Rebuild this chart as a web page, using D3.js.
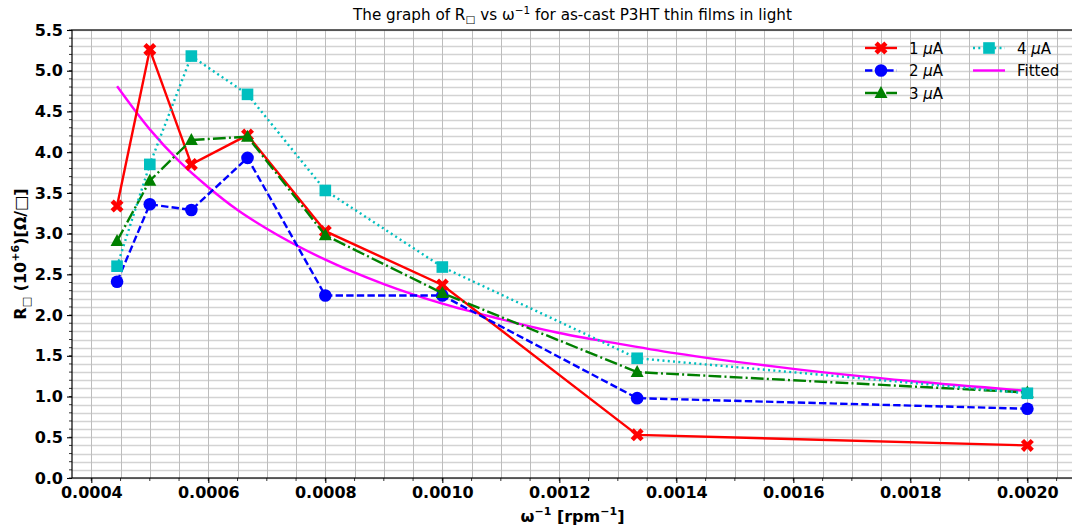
<!doctype html>
<html lang="en">
<head>
<meta charset="utf-8">
<title>R vs omega^-1</title>
<script src="https://d3js.org/d3.v7.min.js"></script>
<style>
	body { margin: 0; background: #fff; }
	svg { font-family: "DejaVu Sans", sans-serif; }
</style>
</head>
<body>
<svg id="chart" width="1072" height="531"></svg>
<script>
// rotation speed inverse (rpm^-1): 2250, 2000, 1750, 1500, 1250, 1000, 750, 500 rpm
var omegaInv = [0.000444, 0.0005, 0.000571, 0.000667, 0.0008, 0.001, 0.001333, 0.002];

var r1uA = [3.34, 5.26, 3.85, 4.21, 3.03, 2.37, 0.53, 0.40];
var r2uA = [2.41, 3.36, 3.29, 3.93, 2.24, 2.24, 0.98, 0.85];
var r3uA = [2.91, 3.65, 4.15, 4.19, 2.98, 2.27, 1.30, 1.05];
var r4uA = [2.60, 3.85, 5.18, 4.71, 3.53, 2.59, 1.47, 1.04];

// fitted curve
var fitX = [0.000444, 0.0005, 0.00055, 0.0006, 0.00065, 0.0007, 0.0008, 0.0009, 0.001, 0.0011, 0.0012, 0.0013, 0.0014, 0.0016, 0.0018, 0.002];
var fitY = [4.81, 4.28, 3.89, 3.57, 3.29, 3.06, 2.68, 2.38, 2.14, 1.95, 1.78, 1.65, 1.53, 1.34, 1.19, 1.07];

var xTicks = [0.0004, 0.0006, 0.0008, 0.0010, 0.0012, 0.0014, 0.0016, 0.0018, 0.0020];
var yTicks = [0, 0.5, 1, 1.5, 2, 2.5, 3, 3.5, 4, 4.5, 5, 5.5];

var series = [
	{ name: "1", vals: r1uA, color: "#ff0000", dash: null, marker: "x" },
	{ name: "2", vals: r2uA, color: "#0000ff", dash: "7.4,3.2", marker: "circle" },
	{ name: "3", vals: r3uA, color: "#008000", dash: "12.8,3.2,2,3.2", marker: "triangle" },
	{ name: "4", vals: r4uA, color: "#00bfbf", dash: "2,3.3", marker: "square" }
];

const svg = d3.select('#chart');

var pLeft = 72, pRight = 1073, pTop = 30, pBottom = 478;

var x = d3.scaleLinear().domain([0.000367, 0.002078]).range([pLeft, pRight]);
var y = d3.scaleLinear().domain([0, 5.5]).range([pBottom, pTop]);

svg.append("clipPath").attr("id", "clip")
	.append("rect").attr("x", pLeft).attr("y", pTop)
	.attr("width", pRight - pLeft).attr("height", pBottom - pTop);

// grid (major + minor)
var grid = svg.append("g");
var xMinor = d3.range(0.0004, 0.00208, 0.00005);
var yMinor = d3.range(0, 5.51, 0.1);
grid.selectAll("line.gy").data(yMinor).enter().append("line")
	.attr("x1", pLeft).attr("x2", pRight)
	.attr("y1", d => Math.round(y(d)) + 0.5).attr("y2", d => Math.round(y(d)) + 0.5)
	.attr("stroke", "#d3d3d3").attr("stroke-width", 1.3);
grid.selectAll("line.gx").data(xMinor).enter().append("line")
	.attr("y1", pTop).attr("y2", pBottom)
	.attr("x1", d => Math.round(x(d)) + 0.5).attr("x2", d => Math.round(x(d)) + 0.5)
	.attr("stroke", "#bdbdbd").attr("stroke-width", 1);

var plot = svg.append("g").attr("clip-path", "url(#clip)");

// fitted curve
var fitLine = d3.line().x((d, i) => x(fitX[i])).y(d => y(d)).curve(d3.curveMonotoneX);
plot.append("path")
	.attr("d", fitLine(fitY))
	.attr("fill", "none").attr("stroke", "#ff00ff").attr("stroke-width", 2.4);

function markerPath(type) {
	if (type == "circle") return d3.symbol(d3.symbolCircle, 125)();
	if (type == "square") return d3.symbol(d3.symbolSquare, 135)();
	if (type == "triangle") return "M0,-7L6.5,5L-6.5,5Z";
	// filled X
	var a = 6.5, w = 3.2;
	return "M" + (-a) + "," + (-a + w) + "L" + (-a + w) + "," + (-a) + "L0," + (-w) +
		"L" + (a - w) + "," + (-a) + "L" + a + "," + (-a + w) + "L" + w + ",0" +
		"L" + a + "," + (a - w) + "L" + (a - w) + "," + a + "L0," + w +
		"L" + (-a + w) + "," + a + "L" + (-a) + "," + (a - w) + "L" + (-w) + ",0Z";
}

var line = d3.line().x((d, i) => x(omegaInv[i])).y(d => y(d));

series.forEach(function(s) {
	var g = plot.append("g");
	g.append("path")
		.attr("d", line(s.vals))
		.attr("fill", "none")
		.attr("stroke", s.color)
		.attr("stroke-width", 2.4)
		.attr("stroke-dasharray", s.dash);
	g.selectAll("path.m").data(s.vals).enter().append("path")
		.attr("class", "m")
		.attr("d", markerPath(s.marker))
		.attr("transform", (d, i) => "translate(" + x(omegaInv[i]) + "," + y(d) + ")")
		.attr("fill", s.color);
});

// frame
svg.append("rect").attr("x", pLeft).attr("y", pTop)
	.attr("width", pRight - pLeft).attr("height", pBottom - pTop)
	.attr("fill", "none").attr("stroke", "#000").attr("stroke-width", 1.2);

// axes
var xAxis = d3.axisBottom(x).tickValues(xTicks).tickFormat(d3.format(".4f")).tickSize(5).tickPadding(4);
var yAxis = d3.axisLeft(y).tickValues(yTicks).tickFormat(d3.format(".1f")).tickSize(5).tickPadding(4);

var gx = svg.append("g").attr("transform", "translate(0," + pBottom + ")").call(xAxis);
var gy = svg.append("g").attr("transform", "translate(" + pLeft + ",0)").call(yAxis);
[gx, gy].forEach(function(g) {
	g.select(".domain").remove();
	g.selectAll("text").attr("font-family", "DejaVu Sans").attr("font-size", 16)
		.attr("font-weight", "bold").attr("fill", "#000");
	g.selectAll("line").attr("stroke", "#000").attr("stroke-width", 1.1);
});

// minor ticks
svg.append("g").selectAll("line").data(xMinor).enter().append("line")
	.attr("x1", d => x(d)).attr("x2", d => x(d))
	.attr("y1", pBottom).attr("y2", pBottom + 3)
	.attr("stroke", "#000").attr("stroke-width", 0.8);
svg.append("g").selectAll("line").data(yMinor).enter().append("line")
	.attr("y1", d => y(d)).attr("y2", d => y(d))
	.attr("x1", pLeft).attr("x2", pLeft - 3)
	.attr("stroke", "#000").attr("stroke-width", 0.8);

// title
var title = svg.append("text").attr("x", (pLeft + pRight) / 2).attr("y", 20)
	.attr("text-anchor", "middle").attr("font-size", 15.2);
title.append("tspan").text("The graph of R");
title.append("tspan").attr("font-size", 10.5).attr("dy", 3).text("\u25A1");
title.append("tspan").attr("dy", -3).text(" vs \u03C9");
title.append("tspan").attr("font-size", 10.5).attr("dy", -6).text("\u22121");
title.append("tspan").attr("dy", 6).text(" for as-cast P3HT thin films in light");

// x label
var xl = svg.append("text").attr("x", (pLeft + pRight) / 2).attr("y", 522)
	.attr("text-anchor", "middle").attr("font-size", 16).attr("font-weight", "bold");
xl.append("tspan").text("\u03C9");
xl.append("tspan").attr("font-size", 11).attr("dy", -7).text("\u22121");
xl.append("tspan").attr("dy", 7).text(" [rpm");
xl.append("tspan").attr("font-size", 11).attr("dy", -7).text("\u22121");
xl.append("tspan").attr("dy", 7).text("]");

// y label
var yl = svg.append("text").attr("transform", "translate(26," + ((pTop + pBottom) / 2) + ") rotate(-90)")
	.attr("text-anchor", "middle").attr("font-size", 16).attr("font-weight", "bold");
yl.append("tspan").text("R");
yl.append("tspan").attr("font-size", 11).attr("dy", 4).text("\u25A1");
yl.append("tspan").attr("dy", -4).text(" (10");
yl.append("tspan").attr("font-size", 11).attr("dy", -7).text("+6");
yl.append("tspan").attr("dy", 7).text(")[\u03A9/\u25A1]");

// legend
var legendItems = [
	{ num: "1", s: series[0], col: 0, row: 0 },
	{ num: "2", s: series[1], col: 0, row: 1 },
	{ num: "3", s: series[2], col: 0, row: 2 },
	{ num: "4", s: series[3], col: 1, row: 0 },
	{ num: null, s: { color: "#ff00ff", dash: null, marker: null }, col: 1, row: 1 }
];
var colX = [865, 973];
var leg = svg.append("g");
legendItems.forEach(function(it) {
	var lx = colX[it.col], ly = 48 + it.row * 22.5;
	leg.append("line").attr("x1", lx).attr("x2", lx + 32).attr("y1", ly).attr("y2", ly)
		.attr("stroke", it.s.color).attr("stroke-width", 2.4).attr("stroke-dasharray", it.s.dash);
	if (it.s.marker) {
		leg.append("path").attr("d", markerPath(it.s.marker))
			.attr("transform", "translate(" + (lx + 16) + "," + ly + ")").attr("fill", it.s.color);
	}
	var t = leg.append("text").attr("x", lx + 44).attr("y", ly + 5.5).attr("font-size", 15);
	if (it.num) {
		t.append("tspan").text(it.num + " ");
		t.append("tspan").attr("font-style", "italic").text("\u03BC");
		t.append("tspan").text("A");
	} else {
		t.text("Fitted");
	}
});
</script>
</body>
</html>
